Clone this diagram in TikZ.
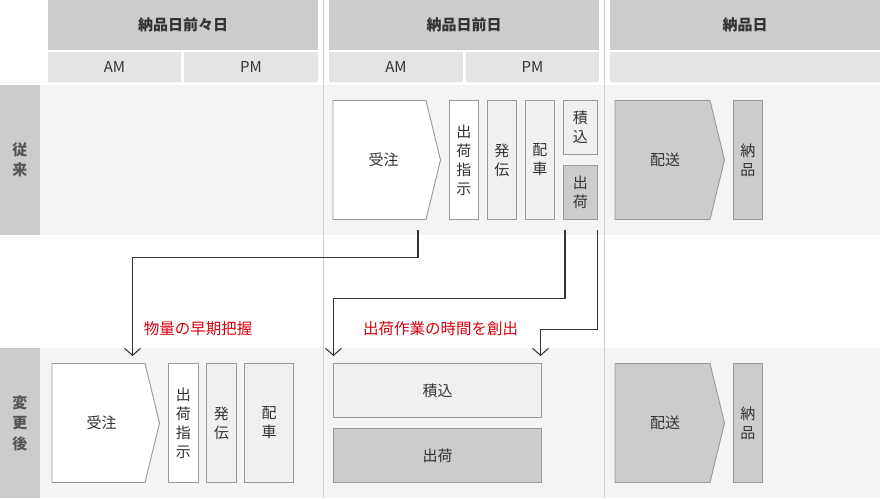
\documentclass[tikz,border=0pt]{standalone}
\usepackage{fontspec}
\setmainfont{Noto Sans CJK JP}
\usetikzlibrary{arrows.meta}
\definecolor{cdark}{HTML}{CCCCCC}
\definecolor{csub}{HTML}{E4E4E4}
\definecolor{cband}{HTML}{F4F4F4}
\definecolor{cbox}{HTML}{F0F0F0}
\definecolor{cedge}{HTML}{999999}
\definecolor{ctext}{HTML}{333333}
\definecolor{clabel}{HTML}{555555}
\definecolor{cred}{HTML}{D7000F}
\definecolor{csep}{HTML}{CCCCCC}
\definecolor{cline}{HTML}{333333}
\begin{document}
\begin{tikzpicture}[x=1pt,y=-1pt,
  cell/.style={anchor=north west,inner sep=0pt,outer sep=0pt,text=ctext},
  hdr/.style={cell,fill=cdark,minimum height=50,font=\fontsize{15}{18}\selectfont\bfseries},
  sub/.style={cell,fill=csub,minimum height=30,font=\fontsize{15}{18}\selectfont},
  band/.style={cell,fill=cband,minimum height=150},
  rowlab/.style={cell,fill=cdark,minimum width=40,minimum height=150,text=clabel,align=center,font=\fontsize{15}{20.5}\selectfont\bfseries},
  box/.style={cell,draw=cedge,line width=0.9pt,align=center,font=\fontsize{15}{19}\selectfont},
  vbox/.style={box,minimum width=29.5,minimum height=119},
  pent/.style={draw=cedge,line width=0.9pt},
  btext/.style={inner sep=0pt,text=ctext,font=\fontsize{15}{19}\selectfont},
  sep/.style={draw=csep,line width=1pt},
  flow/.style={draw=cline,line width=1.1pt,-{Straight Barb[length=7pt,width=16pt,line width=1pt]}},
  note/.style={inner sep=0pt,text=cred,font=\fontsize{15.5}{18}\selectfont}
]
\useasboundingbox (0,0) rectangle (880,498);
\fill[white] (0,0) rectangle (880,498);
% headers
\node[hdr,minimum width=270] (h1) at (48,0) {納品日前々日};
\node[hdr,minimum width=270] (h2) at (329,0) {納品日前日};
\node[hdr,minimum width=270] (h3) at (610,0) {納品日};
\node[sub,minimum width=133] (s1a) at (48,52) {AM};
\node[sub,minimum width=134] (s1p) at (184,52) {PM};
\node[sub,minimum width=134] (s2a) at (329,52) {AM};
\node[sub,minimum width=133] (s2p) at (466,52) {PM};
\node[sub,minimum width=270] (s3) at (610,52) {};
% bands
\node[band,minimum width=840] (b1) at (40,85) {};
\node[band,minimum width=840] (b2) at (40,348) {};
\node[rowlab] (r1) at (0,85) {従\\来};
\node[rowlab] (r2) at (0,348) {変\\更\\後};
% separators
\draw[sep] (323.5,0) -- (323.5,498);
\draw[sep] (604.5,0) -- (604.5,498);
% top row
\draw[pent,fill=white] (333,100.5) -- (426,100.5) -- (440.5,160) -- (426,219.5) -- (333,219.5) -- cycle;
\node[btext] (tjuchu) at (383.5,159.5) {受注};
\node[vbox,fill=white] (tshiji) at (449,100.5) {出\\荷\\指\\示};
\node[vbox,fill=cbox] (thatsu) at (487,100.5) {発\\伝};
\node[vbox,fill=cbox] (thaisha) at (525,100.5) {配\\車};
\node[box,fill=cbox,minimum width=34.5,minimum height=54] (tnomi) at (563,100.5) {積\\込};
\node[box,fill=cdark,minimum width=34.5,minimum height=54] (tshukka) at (563,165.5) {出\\荷};
\draw[pent,fill=cdark] (615,100.5) -- (710,100.5) -- (724.5,160) -- (710,219.5) -- (615,219.5) -- cycle;
\node[btext] (thaiso) at (665,159.5) {配送};
\node[vbox,fill=cdark] (tnohin) at (733,100.5) {納\\品};
% bottom row
\draw[pent,fill=white] (52,363.5) -- (145,363.5) -- (159.5,423) -- (145,482.5) -- (52,482.5) -- cycle;
\node[btext] (bjuchu) at (101.5,422.5) {受注};
\node[vbox,fill=white] (bshiji) at (168.5,363.5) {出\\荷\\指\\示};
\node[vbox,fill=cbox] (bhatsu) at (206.5,363.5) {発\\伝};
\node[vbox,fill=cbox,minimum width=49] (bhaisha) at (244.5,363.5) {配\\車};
\node[box,fill=cbox,minimum width=208,minimum height=54] (bnomi) at (333.5,363.5) {積込};
\node[box,fill=cdark,minimum width=208,minimum height=54] (bshukka) at (333.5,428.5) {出荷};
\draw[pent,fill=cdark] (615,363.5) -- (710,363.5) -- (724.5,423) -- (710,482.5) -- (615,482.5) -- cycle;
\node[btext] (bhaiso) at (665,422.5) {配送};
\node[vbox,fill=cdark] (bnohin) at (733,363.5) {納\\品};
% connectors
\coordinate (a1s) at (418,230);
\coordinate (a1e) at (132.5,356);
\coordinate (a2s) at (565,230);
\coordinate (a2e) at (333.5,356);
\coordinate (a3s) at (597.5,230);
\coordinate (a3e) at (540.5,356);
\draw[flow] (a1s) -- (a1s |- 0,257.5) -- (a1e |- 0,257.5) -- (a1e);
\draw[flow] (a2s) -- (a2s |- 0,298.5) -- (a2e |- 0,298.5) -- (a2e);
\draw[flow] (a3s) -- (a3s |- 0,329.5) -- (a3e |- 0,329.5) -- (a3e);
\node[note] (n1) at (198,328.5) {物量の早期把握};
\node[note] (n2) at (440.5,328.5) {出荷作業の時間を創出};
\end{tikzpicture}
\end{document}
